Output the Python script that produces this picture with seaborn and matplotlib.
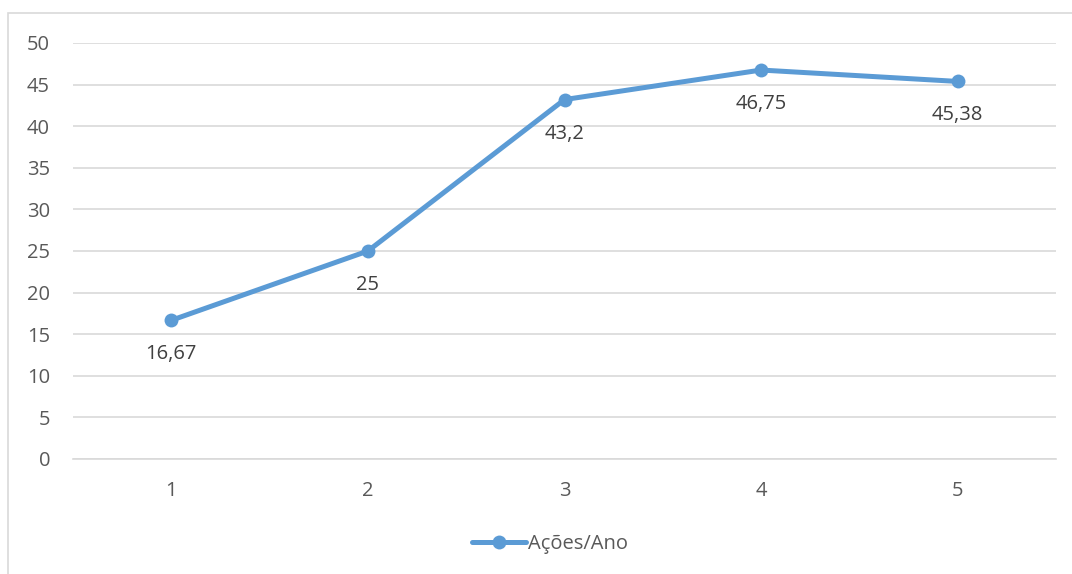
import matplotlib
matplotlib.use("Agg")
import matplotlib.pyplot as plt
import matplotlib.patches as mpatches
from matplotlib.lines import Line2D
import seaborn as sns
import pandas as pd

# Dados
anos = [1, 2, 3, 4, 5]
acoes_por_ano = [16.67, 25, 43.2, 46.75, 45.38]
rotulos = ["16,67", "25", "43,2", "46,75", "45,38"]
serie = "Ações/Ano"

df = pd.DataFrame({"ano": anos, "valor": acoes_por_ano})

sns.set_theme(style="white")
plt.rcParams["font.family"] = ["Open Sans", "DejaVu Sans"]

cor = "#5B9BD5"
cinza_texto = "#595959"
cinza_rotulo = "#404040"
cinza_grade = "#D9D9D9"
tam_fonte = 14.5

fig = plt.figure(figsize=(10.72, 5.74), dpi=100)
ax = fig.add_axes([73 / 1072, 1 - 459 / 574, (1056 - 73) / 1072, (459 - 43) / 574])

# Moldura do gráfico
fig.patches.append(mpatches.Rectangle((8 / 1072, -0.1), 1.2, 1 - 13 / 574 + 0.1,
                                      transform=fig.transFigure, fill=False,
                                      edgecolor=cinza_grade, linewidth=1.2, zorder=0))

sns.lineplot(data=df, x="ano", y="valor", ax=ax, color=cor, linewidth=3.6,
             marker="o", markersize=10, markeredgecolor=cor, markeredgewidth=0,
             legend=False)

for x, y, t in zip(anos, acoes_por_ano, rotulos):
    ax.annotate(t, (x, y), xytext=(0, -24.5), textcoords="offset points",
                ha="center", va="center", fontsize=tam_fonte, color=cinza_rotulo)

ax.set_xlim(0.5, 5.5)
ax.set_ylim(0, 50)
ax.set_yticks(range(0, 51, 5))
ax.set_xticks(anos)
ax.set_xlabel("")
ax.set_ylabel("")
ax.grid(axis="y", color=cinza_grade, linewidth=1.2)
ax.set_axisbelow(True)
for s in ["left", "right", "top"]:
    ax.spines[s].set_visible(False)
ax.spines["bottom"].set_color(cinza_grade)
ax.spines["bottom"].set_linewidth(1.2)
ax.tick_params(axis="both", length=0, labelsize=tam_fonte, labelcolor=cinza_texto)
ax.tick_params(axis="y", pad=16.5)
ax.tick_params(axis="x", pad=16)

handle = Line2D([0], [0], color=cor, linewidth=3.6, marker="o", markersize=10,
                markeredgewidth=0)
fig.legend([handle], [serie], loc="center", bbox_to_anchor=(550 / 1072, 1 - 544 / 574),
           frameon=False, fontsize=tam_fonte, labelcolor=cinza_texto, handlelength=2.7,
           handletextpad=0.1)

fig.savefig("out.png", dpi=100)
